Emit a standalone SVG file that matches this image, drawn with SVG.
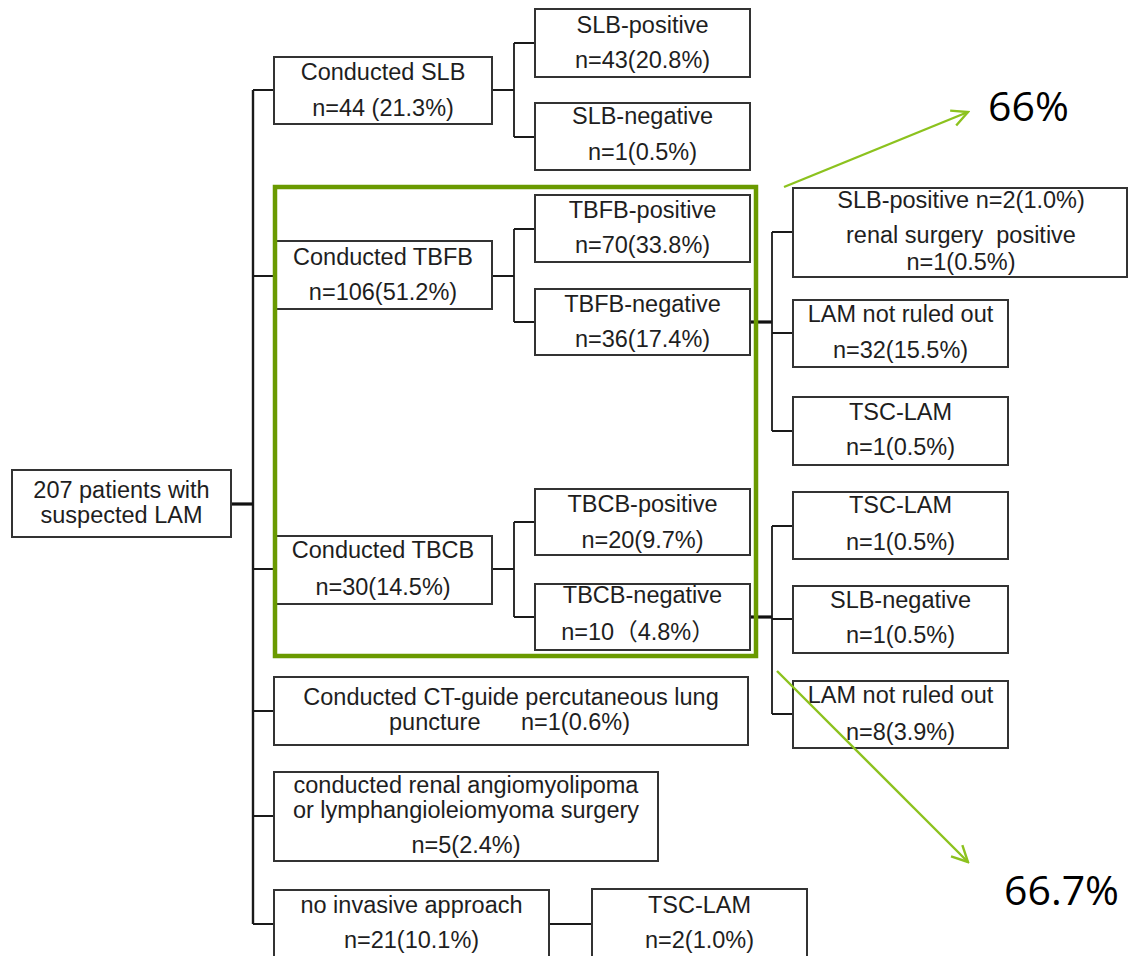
<svg xmlns="http://www.w3.org/2000/svg" width="1128" height="956" viewBox="0 0 1128 956">
<style>
.b{fill:#fff;stroke:#333;stroke-width:2}
.t{font-family:"Liberation Sans",Arial,"Noto Sans CJK SC",sans-serif;font-size:23.5px;fill:#1e1e1e;text-anchor:middle}
.ts{text-anchor:start}
.c{fill:none;stroke:#1a1a1a;stroke-width:1.8}
.ck{fill:none;stroke:#111;stroke-width:3.2}
.g{fill:none;stroke:#6a9a00;stroke-width:4.5}
.a{fill:none;stroke:#8cc21e;stroke-width:2.4}
.p{font-family:"Open Sans","Liberation Sans",sans-serif;font-size:41px;fill:#000}
</style>
<defs>
<marker id="ah" viewBox="0 0 20 20" refX="18" refY="10" markerWidth="20" markerHeight="20" markerUnits="userSpaceOnUse" orient="auto">
<path d="M2,2 L18,10 L2,18" fill="none" stroke="#8cc21e" stroke-width="2.4"/>
</marker>
</defs>
<rect width="1128" height="956" fill="#fff"/>
<g id="connectors">
<path class="c" d="M253,90 V924" style="stroke-width:2.4"/>
<path class="ck" d="M231,504 H253"/>
<path class="c" d="M253,90 H274 M253,276 H274 M253,569 H274 M253,711 H274 M253,816 H274 M253,924 H274"/>
<path class="c" d="M492,90 H514 M514,43 V137 M514,43 H535 M514,137 H535" />
<path class="c" d="M492,276 H514 M514,229 V322 M514,229 H535 M514,322 H535" />
<path class="c" d="M492,569 H514 M514,522 V617 M514,522 H535 M514,617 H535" />
<path class="ck" d="M750,322 H772"/>
<path class="c" d="M772,232 V431 M772,232 H793 M772,333 H793 M772,431 H793"/>
<path class="ck" d="M750,617 H772"/>
<path class="c" d="M772,526 V714 M772,526 H793 M772,619 H793 M772,714 H793"/>
<path class="c" d="M549,924 H592"/>
</g>
<g id="root"><rect class="b" x="12" y="470" width="219" height="67"/>
<text class="t" x="121.5" y="498">207 patients with</text><text class="t" x="121.5" y="523">suspected LAM</text></g>
<g id="slb"><rect class="b" x="274" y="57" width="218" height="67"/>
<text class="t" x="383" y="80">Conducted SLB</text><text class="t" x="383" y="116">n=44 (21.3%)</text></g>
<g id="slb-pos"><rect class="b" x="535" y="9" width="215" height="68"/>
<text class="t" x="642.5" y="33">SLB-positive</text><text class="t" x="642.5" y="68">n=43(20.8%)</text></g>
<g id="slb-neg"><rect class="b" x="535" y="103" width="215" height="67"/>
<text class="t" x="642.5" y="124">SLB-negative</text><text class="t" x="642.5" y="160">n=1(0.5%)</text></g>
<g id="tbfb"><rect class="b" x="274" y="241" width="218" height="68"/>
<text class="t" x="383" y="265">Conducted TBFB</text><text class="t" x="383" y="300">n=106(51.2%)</text></g>
<g id="tbfb-pos"><rect class="b" x="535" y="195" width="215" height="67"/>
<text class="t" x="642.5" y="218">TBFB-positive</text><text class="t" x="642.5" y="253">n=70(33.8%)</text></g>
<g id="tbfb-neg"><rect class="b" x="535" y="289" width="215" height="66"/>
<text class="t" x="642.5" y="312">TBFB-negative</text><text class="t" x="642.5" y="347">n=36(17.4%)</text></g>
<g id="tbfb-neg-slbpos"><rect class="b" x="793" y="188" width="334" height="89"/>
<text class="t" x="961" y="208">SLB-positive n=2(1.0%)</text><text class="t" x="961" y="243" xml:space="preserve">renal surgery  positive</text><text class="t" x="961" y="270">n=1(0.5%)</text></g>
<g id="tbfb-neg-lam"><rect class="b" x="793" y="300" width="215" height="67"/>
<text class="t" x="900.5" y="322">LAM not ruled out</text><text class="t" x="900.5" y="358">n=32(15.5%)</text></g>
<g id="tbfb-neg-tsc"><rect class="b" x="793" y="397" width="215" height="68"/>
<text class="t" x="900.5" y="420">TSC-LAM</text><text class="t" x="900.5" y="455">n=1(0.5%)</text></g>
<g id="tbcb"><rect class="b" x="274" y="536" width="218" height="68"/>
<text class="t" x="383" y="558">Conducted TBCB</text><text class="t" x="383" y="595">n=30(14.5%)</text></g>
<g id="tbcb-pos"><rect class="b" x="535" y="489" width="215" height="66"/>
<text class="t" x="642.5" y="512">TBCB-positive</text><text class="t" x="642.5" y="548">n=20(9.7%)</text></g>
<g id="tbcb-neg"><rect class="b" x="535" y="584" width="215" height="66"/>
<text class="t" x="642.5" y="603">TBCB-negative</text><text class="t" x="638" y="640">n=10（4.8%）</text></g>
<g id="tbcb-neg-tsc"><rect class="b" x="793" y="492" width="215" height="67"/>
<text class="t" x="900.5" y="513">TSC-LAM</text><text class="t" x="900.5" y="550">n=1(0.5%)</text></g>
<g id="tbcb-neg-slbneg"><rect class="b" x="793" y="586" width="215" height="67"/>
<text class="t" x="900.5" y="608">SLB-negative</text><text class="t" x="900.5" y="643">n=1(0.5%)</text></g>
<g id="tbcb-neg-lam"><rect class="b" x="793" y="681" width="215" height="67"/>
<text class="t" x="900.5" y="703">LAM not ruled out</text><text class="t" x="900.5" y="740">n=8(3.9%)</text></g>
<g id="ct"><rect class="b" x="274" y="677" width="474" height="68"/>
<text class="t" x="511" y="705">Conducted CT-guide percutaneous lung</text>
<text class="t ts" x="389" y="730">puncture</text><text class="t ts" x="521" y="730">n=1(0.6%)</text></g>
<g id="renal"><rect class="b" x="274" y="772" width="384" height="89"/>
<text class="t" x="466" y="793">conducted renal angiomyolipoma</text><text class="t" x="466" y="818">or lymphangioleiomyoma surgery</text><text class="t" x="466" y="853">n=5(2.4%)</text></g>
<g id="noninv"><rect class="b" x="274" y="890" width="275" height="72"/>
<text class="t" x="411.5" y="913">no invasive approach</text><text class="t" x="411.5" y="948">n=21(10.1%)</text></g>
<g id="noninv-tsc"><rect class="b" x="592" y="889" width="215" height="73"/>
<text class="t" x="699.5" y="913">TSC-LAM</text><text class="t" x="699.5" y="948">n=2(1.0%)</text></g>
<g id="highlight"><rect class="g" x="275" y="187" width="481" height="469"/></g>
<g id="arrows">
<path class="a" d="M784,187 L968,112" marker-end="url(#ah)"/>
<path class="a" d="M777,671 L968,862" marker-end="url(#ah)"/>
</g>
<g id="labels">
<text class="p" x="988" y="121">66%</text>
<text class="p" x="1004" y="905">66.7%</text>
</g>
</svg>
